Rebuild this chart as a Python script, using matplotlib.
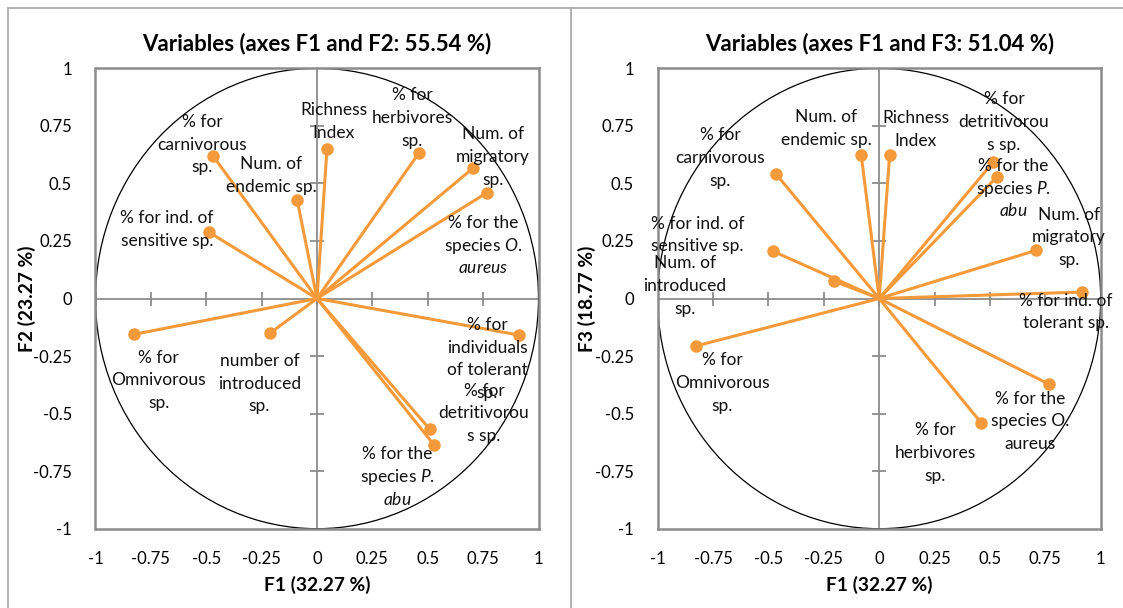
import matplotlib
matplotlib.use("Agg")
import matplotlib.pyplot as plt
from matplotlib.patches import Ellipse
from matplotlib.lines import Line2D

plt.rcParams['font.family'] = ['Lato', 'DejaVu Sans']
plt.rcParams['mathtext.fontset'] = 'custom'
plt.rcParams['mathtext.rm'] = 'Lato'
plt.rcParams['mathtext.it'] = 'Lato:italic'

# ---------------- data ----------------
labels_12 = ["% for\ncarnivorous\nsp.",
             "Num. of\nendemic sp.",
             "Richness\nIndex",
             "% for\nherbivores\nsp.",
             "Num. of\nmigratory\nsp.",
             "% for the\nspecies $\\mathit{O.}$\n$\\mathit{aureus}$",
             "% for ind. of\nsensitive sp.",
             "% for\nOmnivorous\nsp.",
             "number of\nintroduced\nsp.",
             "% for\nindividuals\nof tolerant\nsp.",
             "% for\ndetritivorou\ns sp.",
             "% for the\nspecies $\\mathit{P.}$\n$\\mathit{abu}$"]
f1_12 = [-0.47, -0.09, 0.045, 0.46, 0.705, 0.768, -0.488, -0.827, -0.21, 0.913, 0.51, 0.529]
f2_12 = [0.62, 0.43, 0.65, 0.632, 0.567, 0.46, 0.288, -0.156, -0.149, -0.159, -0.569, -0.637]

labels_13 = ["% for\ncarnivorous\nsp.",
             "Num. of\nendemic sp.",
             "Richness\nIndex",
             "% for\ndetritivorou\ns sp.",
             "% for the\nspecies $\\mathit{P.}$\n$\\mathit{abu}$",
             "Num. of\nmigratory\nsp.",
             "% for ind. of\ntolerant sp.",
             "% for ind. of\nsensitive sp.",
             "Num. of\nintroduced\nsp.",
             "% for\nOmnivorous\nsp.",
             "% for the\nspecies O.\naureus",
             "% for\nherbivores\nsp."]
f1_13 = [-0.465, -0.081, 0.047, 0.514, 0.532, 0.708, 0.916, -0.481, -0.206, -0.826, 0.768, 0.461]
f3_13 = [0.54, 0.622, 0.622, 0.592, 0.529, 0.209, 0.028, 0.206, 0.076, -0.206, -0.373, -0.541]

ticks = [-1, -0.75, -0.5, -0.25, 0, 0.25, 0.5, 0.75, 1]
tick_labels = ["-1", "-0.75", "-0.5", "-0.25", "0", "0.25", "0.5", "0.75", "1"]

# label block-centre offsets in pixels (dx right, dy down) relative to the point
off_12 = [(-11, -12), (-26, -25), (7, -28), (-7, -36), (20, -12), (-4, 52),
          (-42, -4), (25, 45), (-11, 50), (-32, 23), (54, -17), (-37, 31)]
off_13 = [(-56, -17), (-35, -28), (26, -27), (11, -41), (16, 11), (33, -14),
          (-16, 19), (-75, -17), (-149, 4), (26, 36), (-19, 36), (-46, 29)]

ORANGE = "#F59A3A"
GRAY = "#8C8C8C"
FS = 12.5
LINE_PX = 22.7
PT = 72 / 100.0  # points per pixel

fig = plt.figure(figsize=(11.23, 6.08), dpi=100)
W, H = 1123, 608

# chart borders
fig.add_artist(Line2D([8 / W, 8 / W], [0, 1 - 8 / H], color="#A6A6A6", lw=1.2))
fig.add_artist(Line2D([8 / W, 1], [1 - 8 / H, 1 - 8 / H], color="#A6A6A6", lw=1.2))
fig.add_artist(Line2D([570.5 / W, 570.5 / W], [0, 1 - 8 / H], color="#A6A6A6", lw=1.2))


def panel(left_px, xs, ys, labels, offs, title, ylabel, ylab_x):
    ax = fig.add_axes([left_px / W, 1 - 528.7 / H, 443 / W, 460.4 / H])
    ax.set_xlim(-1, 1)
    ax.set_ylim(-1, 1)
    for s in ax.spines.values():
        s.set_color(GRAY)
        s.set_linewidth(1.8)
    ax.set_xticks(ticks)
    ax.set_xticklabels(tick_labels)
    ax.set_yticks(ticks)
    ax.set_yticklabels(tick_labels)
    ax.tick_params(length=0, labelsize=12)
    ax.tick_params(axis="x", pad=16)
    ax.tick_params(axis="y", pad=17)
    # centre axes with cross tick marks
    ax.axhline(0, color=GRAY, lw=1.3, zorder=1)
    ax.axvline(0, color=GRAY, lw=1.3, zorder=1)
    ax.plot(ticks, [0] * len(ticks), ls="none", marker="|", ms=10, mew=1.3, color=GRAY, zorder=1)
    ax.plot([0] * len(ticks), ticks, ls="none", marker="_", ms=10, mew=1.3, color=GRAY, zorder=1)
    ax.add_patch(Ellipse((0, 0), 2, 2, fill=False, ec="black", lw=0.9, zorder=2))
    for x, y, lab, (dx, dy) in zip(xs, ys, labels, offs):
        ax.plot([0, x], [0, y], color=ORANGE, lw=2.2, zorder=3)
        ax.plot([x], [y], marker="o", ms=8, color=ORANGE, zorder=4)
        lines = lab.split("\n")
        n = len(lines)
        for i, ln in enumerate(lines):
            ly = dy + (i - (n - 1) / 2) * LINE_PX
            ax.annotate(ln, (x, y), xytext=(dx * PT, -ly * PT - 4.3), textcoords="offset points",
                        ha="center", va="baseline", fontsize=FS,
                        color="#111111", zorder=5, annotation_clip=False)
    ax.set_title(title, fontsize=16, fontweight="bold", pad=13)
    ax.set_xlabel("F1 (32.27 %)", fontsize=13.8, fontweight="bold")
    ax.set_ylabel(ylabel, fontsize=13.8, fontweight="bold")
    ax.xaxis.set_label_coords(0.5, -0.122)
    ax.yaxis.set_label_coords(ylab_x, 0.5)
    ax.xaxis.label.set_va("center")
    ax.yaxis.label.set_va("center")
    return ax


panel(95.5, f1_12, f2_12, labels_12, off_12,
      "Variables (axes F1 and F2: 55.54 %)", "F2 (23.27 %)", -0.155)
panel(657.7, f1_13, f3_13, labels_13, off_13,
      "Variables (axes F1 and F3: 51.04 %)", "F3 (18.77 %)", -0.16)

fig.savefig("out.png", dpi=100)
